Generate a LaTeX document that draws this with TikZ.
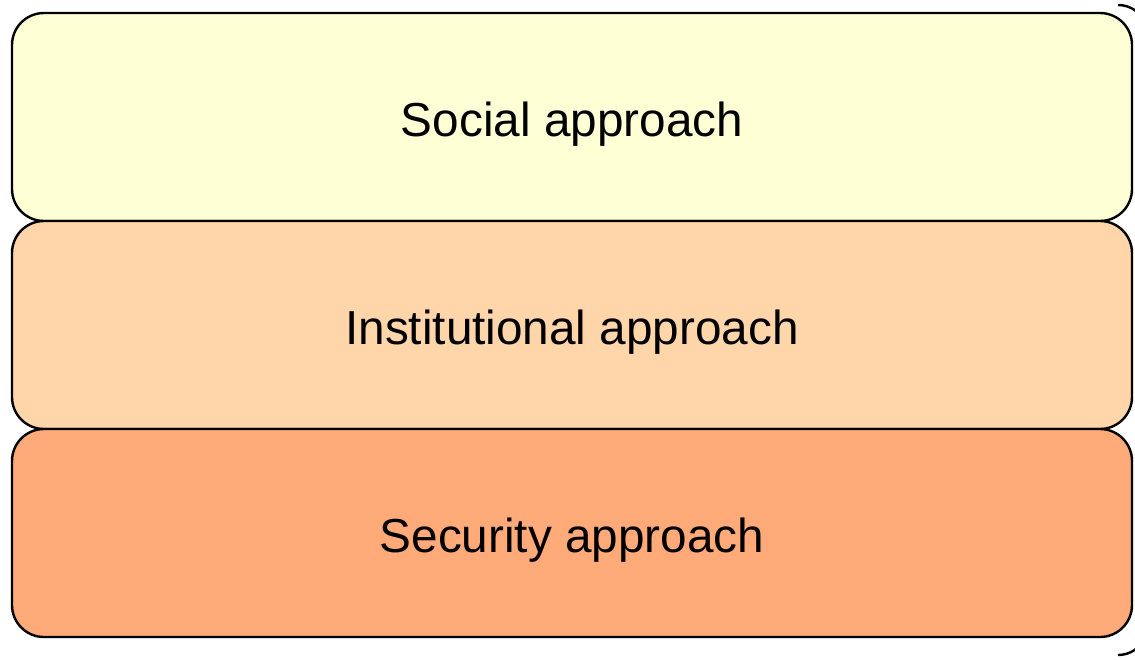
\documentclass[tikz,border=0pt]{standalone}
\usepackage{fontspec}
\setmainfont{Liberation Sans}
\definecolor{socialc}{HTML}{FFFFD5}
\definecolor{instc}{HTML}{FFD5AA}
\definecolor{secc}{HTML}{FFAA78}
\newcommand{\lowtext}[1]{\raisebox{-7pt}[\height][\depth]{#1}}
\begin{document}
\begin{tikzpicture}[x=1pt,y=-1pt,
  layer/.style={draw=black,line width=2.4pt,rounded corners=32pt,
    minimum width=1120pt,minimum height=208pt,inner sep=0pt,
    font=\fontsize{47.7}{57}\selectfont}]
\useasboundingbox (0,0) rectangle (1135,659);
\clip (0,0) rectangle (1135,659);
\node[layer,fill=socialc] (social) at (572,117) {\lowtext{Social approach}};
\node[layer,fill=instc] (inst) at (572,325) {\lowtext{Institutional approach}};
\node[layer,fill=secc] (sec) at (572,533) {\lowtext{Security approach}};
\draw[line width=2.4pt] (1118,5) arc[start angle=-90,end angle=-40,radius=30];
\draw[line width=2.4pt] (1118,655) arc[start angle=90,end angle=40,radius=30];
\end{tikzpicture}
\end{document}
